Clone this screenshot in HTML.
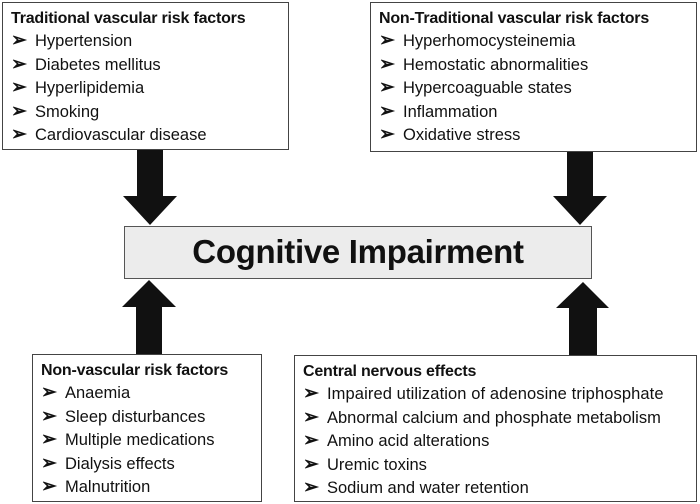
<!DOCTYPE html>
<html><head><meta charset="utf-8"><style>
body{margin:0;width:700px;height:504px;background:#fff;position:relative;overflow:hidden;font-family:"Liberation Sans",sans-serif;color:#111}
.box{position:absolute;border:1.5px solid #444;background:#fff;box-sizing:border-box;padding:5px 0 0 8px}
.box h4{margin:0;font-size:16px;font-weight:bold;line-height:22px;white-space:nowrap;letter-spacing:-0.2px}
.box div{font-size:16.5px;line-height:23.5px;height:23.5px;white-space:nowrap}
.box div span{display:inline-block;width:24px;font-size:19px;font-weight:bold;line-height:20px;vertical-align:top;margin-top:1px}
#c{position:absolute;left:124px;top:226px;width:468px;height:53px;background:#ececec;border:1.5px solid #555;box-sizing:border-box;text-align:center;font-weight:bold;font-size:33px;line-height:50px;letter-spacing:-0.3px}
</style></head><body>
<svg width="700" height="504" style="position:absolute;left:0;top:0">
<polygon fill="#111" points="137,148 163,148 163,196 177,196 150,225 123,196 137,196"/>
<polygon fill="#111" points="567,150 593,150 593,196 607,196 580,225 553,196 567,196"/>
<polygon fill="#111" points="136,356 162,356 162,307 176,307 149,280 122,307 136,307"/>
<polygon fill="#111" points="569,356 597,356 597,308 609,308 583,282 556,308 569,308"/>
</svg>
<div class="box" style="left:2px;top:2px;width:287px;height:148px">
<h4>Traditional vascular risk factors</h4>
<div><span>➢</span>Hypertension</div><div><span>➢</span>Diabetes mellitus</div><div><span>➢</span>Hyperlipidemia</div><div><span>➢</span>Smoking</div><div><span>➢</span>Cardiovascular disease</div>
</div>
<div class="box" style="left:370px;top:2px;width:327px;height:150px">
<h4>Non-Traditional vascular risk factors</h4>
<div><span>➢</span>Hyperhomocysteinemia</div><div><span>➢</span>Hemostatic abnormalities</div><div><span>➢</span>Hypercoaguable states</div><div><span>➢</span>Inflammation</div><div><span>➢</span>Oxidative stress</div>
</div>
<div id="c">Cognitive Impairment</div>
<div class="box" style="left:32px;top:354px;width:230px;height:148px">
<h4>Non-vascular risk factors</h4>
<div><span>➢</span>Anaemia</div><div><span>➢</span>Sleep disturbances</div><div><span>➢</span>Multiple medications</div><div><span>➢</span>Dialysis effects</div><div><span>➢</span>Malnutrition</div>
</div>
<div class="box" style="left:294px;top:355px;width:403px;height:147px">
<h4>Central nervous effects</h4>
<div style="letter-spacing:0.1px"><span>➢</span>Impaired utilization of adenosine triphosphate</div><div><span>➢</span>Abnormal calcium and phosphate metabolism</div><div><span>➢</span>Amino acid alterations</div><div><span>➢</span>Uremic toxins</div><div><span>➢</span>Sodium and water retention</div>
</div>
</body></html>
